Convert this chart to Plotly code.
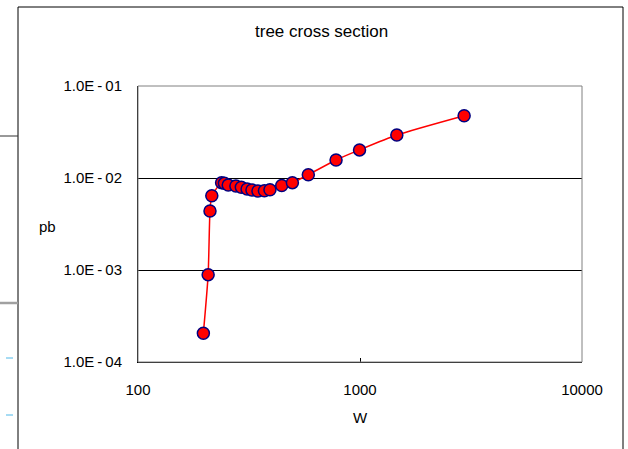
import plotly.graph_objects as go

# Tree-level cross section (pb) against centre-of-mass energy W
w_values = [197, 207, 211, 215, 238, 245, 255, 276, 292, 310, 326, 347, 371,
            393, 444, 496, 585, 780, 995, 1465, 2945]
pb_values = [2.05e-4, 8.9e-4, 4.38e-3, 6.4e-3, 8.9e-3, 8.75e-3, 8.4e-3, 8.2e-3,
             7.95e-3, 7.6e-3, 7.4e-3, 7.22e-3, 7.28e-3, 7.45e-3, 8.3e-3,
             8.9e-3, 1.087e-2, 1.57e-2, 2.02e-2, 2.93e-2, 4.75e-2]

y_tickvals = [1e-4, 1e-3, 1e-2, 1e-1]
y_ticktext = ["1.0E\u2009-\u200904", "1.0E\u2009-\u200903",
              "1.0E\u2009-\u200902", "1.0E\u2009-\u200901"]
x_tickvals = [100, 1000, 10000]
x_ticktext = ["100", "1000", "10000"]

FONT = "Liberation Sans, Arial, sans-serif"
W, H = 628, 449
L, R, T, B = 138, 46, 86, 87
PW, PH = W - L - R, H - T - B


def px(x):
    return (x - L) / PW


def py(y):
    return (H - B - y) / PH


fig = go.Figure()
fig.add_trace(go.Scatter(
    x=w_values, y=pb_values, mode="lines+markers",
    line=dict(color="#ff0000", width=1.5, shape="spline", smoothing=0.6),
    marker=dict(size=12, color="#ff0000", line=dict(color="#000080", width=1.5)),
    showlegend=False,
))

shapes = [
    # chart frame
    dict(type="rect", xref="paper", yref="paper", x0=px(18), x1=px(623),
         y0=py(470), y1=py(7), line=dict(color="#000000", width=1)),
    # plot-area border
    dict(type="rect", xref="paper", yref="paper", x0=0, x1=1, y0=0, y1=1,
         line=dict(color="#808080", width=1)),
    # strokes outside the chart frame
    dict(type="line", xref="paper", yref="paper", x0=px(0), x1=px(18),
         y0=py(136), y1=py(136), line=dict(color="#333333", width=1)),
    dict(type="line", xref="paper", yref="paper", x0=px(0), x1=px(18),
         y0=py(303), y1=py(303), line=dict(color="#a0a0a0", width=2.5)),
    dict(type="line", xref="paper", yref="paper", x0=px(6), x1=px(13),
         y0=py(358), y1=py(358), line=dict(color="#4fb8e8", width=1)),
    dict(type="line", xref="paper", yref="paper", x0=px(6), x1=px(13),
         y0=py(415), y1=py(415), line=dict(color="#4fb8e8", width=1)),
]

fig.update_layout(
    width=W, height=H,
    margin=dict(l=L, r=R, t=T, b=B),
    paper_bgcolor="#ffffff", plot_bgcolor="#ffffff",
    font=dict(family=FONT, size=15, color="#000000"),
    shapes=shapes,
    annotations=[
        dict(text="tree cross section", xref="paper", yref="paper",
             x=px(321), y=py(31), xanchor="center", yanchor="middle",
             showarrow=False, font=dict(size=17)),
        dict(text="W", xref="paper", yref="paper",
             x=px(360), y=py(417), xanchor="center", yanchor="middle",
             showarrow=False, font=dict(size=15)),
        dict(text="pb", xref="paper", yref="paper",
             x=px(47), y=py(226), xanchor="center", yanchor="middle",
             showarrow=False, font=dict(size=15)),
    ],
    xaxis=dict(type="log", range=[2, 4], tickvals=x_tickvals, ticktext=x_ticktext,
               showgrid=False, zeroline=False, showline=True, linecolor="#000000",
               linewidth=1, ticks="inside", ticklen=4, tickcolor="#000000",
               tickfont=dict(size=15), ticklabelstandoff=14),
    yaxis=dict(type="log", range=[-4, -1], tickvals=y_tickvals, ticktext=y_ticktext,
               showgrid=True, gridcolor="#000000", gridwidth=1, zeroline=False,
               showline=True, linecolor="#000000", linewidth=1, ticks="inside",
               ticklen=4, tickcolor="#000000", tickfont=dict(size=15),
               ticklabelstandoff=12),
)

fig.write_html("out.html")
